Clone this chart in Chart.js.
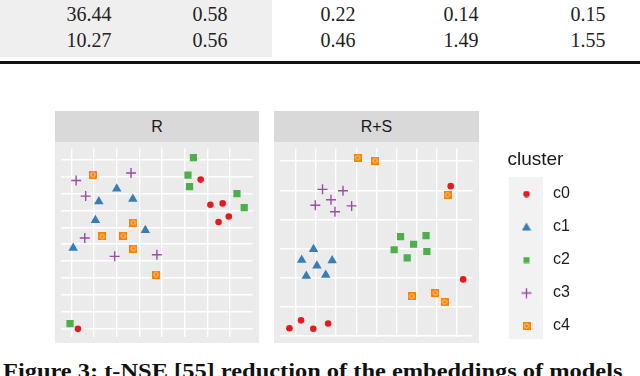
<!DOCTYPE html>
<html>
<head>
<meta charset="utf-8">
<script src="https://cdn.jsdelivr.net/npm/chart.js@4"></script>
<style>
  body { margin: 0; width: 640px; height: 376px; overflow: hidden; background: #fff; position: relative; }
  .abs { position: absolute; }
  .num { font: 20px "Liberation Serif", serif; color: #222; line-height: 24px; transform: translateX(-50%); white-space: nowrap; }
  .strip { background: #d9d9d9; color: #1a1a1a; font: 16px "Liberation Sans", Arial, sans-serif; text-align: center; line-height: 31px; }
  canvas { position: absolute; }
  #caption { font: bold 20px "Liberation Serif", serif; color: #111; line-height: 20px; white-space: nowrap; transform-origin: 0 0; }
</style>
</head>
<body>
<div class="abs" style="left:0;top:0;width:272px;height:57px;background:#efefef"></div>
<div id="table"></div>
<div class="abs" style="left:0;top:61px;width:640px;height:3px;background:#111"></div>

<div class="abs strip" style="left:55px;top:111px;width:204px;height:31px">R</div>
<div class="abs strip" style="left:274px;top:111px;width:205px;height:31px">R+S</div>
<canvas id="left" width="204" height="201" style="left:55px;top:142px;background:#ebebeb"></canvas>
<canvas id="right" width="205" height="201" style="left:274px;top:142px;background:#ebebeb"></canvas>

<div class="abs" style="left:509px;top:177px;width:34px;height:162px;background:#f2f2f2"></div>
<canvas id="legend" width="149" height="215" style="left:491px;top:138px"></canvas>

<div id="caption" class="abs" style="left:3px;top:361px">Figure 3: t-NSE [55] reduction of the embeddings of models</div>

<script>
// table rows above the figure
const tableRows = [
  ['36.44', '0.58', '0.22', '0.14', '0.15'],
  ['10.27', '0.56', '0.46', '1.49', '1.55']
];
const colCenters = [89, 210, 338, 461, 588];
const rowTops = [2, 28];

const clusters = ['c0', 'c1', 'c2', 'c3', 'c4'];
const colors = ['#E41A1C', '#377EB8', '#4DAF4A', '#984EA3', '#FF7F00'];

// panel "R" (one inner array per cluster)
const rX = [
  [5.70, 6.13, 6.67, 6.94, 6.49, 0.29],
  [2.00, 1.21, 2.71, 1.06, 3.26, 0.08],
  [5.38, 5.14, 5.21, 7.30, 7.62, -0.06],
  [0.21, 2.63, 0.63, 0.59, 1.91, 3.77],
  [0.95, 2.73, 1.36, 2.29, 2.73, 3.73]
];
const rY = [
  [8.83, 7.34, 7.42, 6.64, 6.31, -0.02],
  [8.28, 7.53, 7.68, 6.42, 5.83, 4.78],
  [10.13, 9.09, 8.41, 8.00, 7.17, 0.29],
  [8.78, 9.22, 7.85, 5.37, 4.28, 4.37],
  [9.13, 6.28, 5.46, 5.50, 4.74, 3.20]
];
// panel "R+S"
const rsX = [
  [7.71, 8.33, -0.33, 0.25, 0.86, 1.60],
  [0.87, 0.28, 1.80, 1.04, 0.51, 1.48],
  [5.21, 6.48, 5.86, 4.89, 6.52, 5.54],
  [1.32, 2.34, 1.74, 0.96, 2.77, 1.94],
  [3.07, 3.94, 7.55, 5.76, 6.94, 7.40]
];
const rsY = [
  [5.14, 1.93, 0.25, 0.52, 0.23, 0.41],
  [2.97, 2.60, 2.58, 2.40, 2.05, 2.08],
  [3.40, 3.44, 3.14, 2.95, 2.89, 2.67],
  [5.03, 4.98, 4.67, 4.48, 4.46, 4.26],
  [6.12, 6.02, 4.84, 1.35, 1.46, 1.15]
];
// axis limits and grid breaks (no tick labels are shown)
const rRange = { x: [-0.44, 7.99], y: [-0.48, 10.68] };
const rsRange = { x: [-0.78, 8.80], y: [-0.04, 6.44] };
const rBreaks = { x: [0, 1, 2, 3, 4, 5, 6, 7], y: [0, 1, 2, 3, 4, 5, 6, 7, 8, 9, 10] };
const rsBreaks = { x: [0, 1, 2, 3, 4, 5, 6, 7, 8], y: [0, 1, 2, 3, 4, 5, 6] };

// table text
const tbl = document.getElementById('table');
tableRows.forEach((row, r) => {
  row.forEach((v, c) => {
    const d = document.createElement('div');
    d.className = 'abs num';
    d.style.left = colCenters[c] + 'px';
    d.style.top = rowTops[r] + 'px';
    d.textContent = v;
    tbl.appendChild(d);
  });
});

// stretch caption to the width it has in the figure
const cap = document.getElementById('caption');
cap.style.transform = 'scaleX(' + (620 / cap.offsetWidth) + ')';

// small marker pictures: c4 and the legend keys
function marker(i) {
  const c = document.createElement('canvas');
  const s = [7, 10, 7, 11, 8][i];
  c.width = s; c.height = s;
  const g = c.getContext('2d');
  g.fillStyle = colors[i];
  g.strokeStyle = colors[i];
  if (i === 0) { g.beginPath(); g.arc(s / 2, s / 2, 3.2, 0, Math.PI * 2); g.fill(); }
  if (i === 1) { g.beginPath(); g.moveTo(s / 2, 0.5); g.lineTo(s - 0.3, s - 1.5); g.lineTo(0.3, s - 1.5); g.closePath(); g.fill(); }
  if (i === 2) { g.fillRect(0.5, 0.5, s - 1, s - 1); }
  if (i === 3) { g.lineWidth = 1.4; g.beginPath(); g.moveTo(s / 2, 0.5); g.lineTo(s / 2, s - 0.5); g.moveTo(0.5, s / 2); g.lineTo(s - 0.5, s / 2); g.stroke(); }
  if (i === 4) {
    g.fillRect(0, 0, s, s);
    g.strokeStyle = '#ffd7a8'; g.lineWidth = 0.9;
    g.beginPath(); g.arc(s / 2, s / 2, 2.2, 0, Math.PI * 2); g.stroke();
  }
  return c;
}
const markers = clusters.map((c, i) => marker(i));

const styles = ['circle', 'triangle', 'rect', 'cross', markers[4]];
const radii = [3.3, 5.5, 5.1, 5, 4];

function panel(id, xs, ys, range, breaks) {
  const datasets = clusters.map((name, i) => ({
    label: name,
    data: xs[i].map((x, j) => ({ x: x, y: ys[i][j] })),
    pointStyle: styles[i],
    pointRadius: radii[i],
    backgroundColor: colors[i],
    borderColor: colors[i],
    borderWidth: i === 3 ? 1.4 : 0
  }));
  const axis = (r, b, horiz) => ({
    type: 'linear', min: r[0], max: r[1],
    ticks: { display: false },
    grid: { color: '#ffffff', lineWidth: 1.4, drawTicks: false },
    border: { display: false },
    afterBuildTicks(s) { s.ticks = b.map(v => ({ value: v })); },
    afterFit(s) { if (horiz) s.height = 0; else s.width = 0; }
  });
  new Chart(document.getElementById(id), {
    type: 'scatter',
    data: { datasets },
    options: {
      responsive: false, animation: false,
      layout: { padding: 0 },
      plugins: { legend: { display: false }, tooltip: { enabled: false } },
      scales: { x: axis(range.x, breaks.x, true), y: axis(range.y, breaks.y, false) }
    }
  });
}

panel('left', rX, rY, rRange, rBreaks);
panel('right', rsX, rsY, rsRange, rsBreaks);

// legend chart
new Chart(document.getElementById('legend'), {
  type: 'scatter',
  data: { datasets: clusters.map((name, i) => ({ label: name, data: [], backgroundColor: colors[i] })) },
  options: {
    responsive: false, animation: false,
    layout: { padding: 0 },
    scales: { x: { display: false }, y: { display: false } },
    plugins: {
      tooltip: { enabled: false },
      legend: {
        position: 'left', align: 'start', maxWidth: 149,
        title: { display: true, text: 'cluster', position: 'center', color: '#1a1a1a',
                 font: { family: 'Liberation Sans', size: 19, lineHeight: 1 }, padding: { top: 12, bottom: 0 } },
        labels: {
          usePointStyle: true, pointStyleWidth: 37, boxHeight: 16, padding: 17,
          color: '#1a1a1a', font: { family: 'Liberation Sans', size: 16 },
          generateLabels: () => clusters.map((name, i) => ({
            text: name, pointStyle: markers[i], fillStyle: colors[i], strokeStyle: colors[i],
            lineWidth: 0, hidden: false, datasetIndex: i, fontColor: '#1a1a1a'
          }))
        }
      }
    }
  }
});
</script>
</body>
</html>
